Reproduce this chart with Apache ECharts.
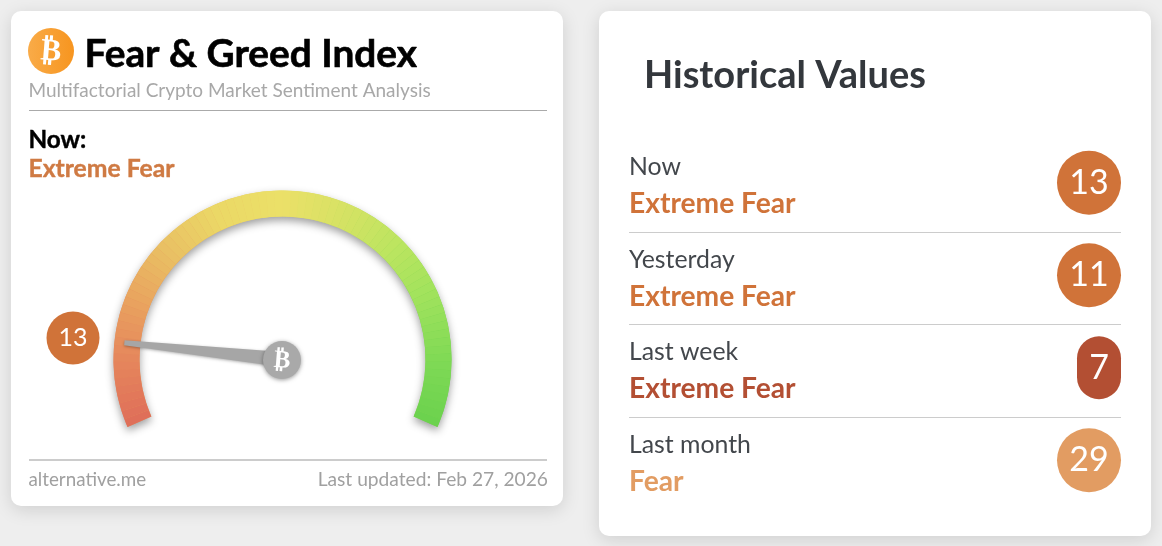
<!DOCTYPE html>
<html>
<head>
<meta charset="utf-8">
<title>Fear & Greed Index</title>
<style>
	html, body { margin: 0; padding: 0; background: #eeeeee; }
	#main { width: 1162px; height: 546px; }
</style>
</head>
<body>
<div id="main"></div>
<script src="https://cdn.jsdelivr.net/npm/echarts@6/dist/echarts.min.js"></script>
<script>
'use strict';

// values
const historyNames = ['Now', 'Yesterday', 'Last week', 'Last month'];
const historyClasses = ['Extreme Fear', 'Extreme Fear', 'Extreme Fear', 'Fear'];
const historyValues = [13, 11, 7, 29];
const historyColors = ['#d07339', '#d07339', '#b34f33', '#e29c62'];

// colours along the gauge arc, from 0 to 100
const arcStops = ['#df6d59', '#e5855c', '#e9a45f', '#e9c264', '#ebd966', '#ebe068', '#d6e264', '#bbe560', '#9ee25c', '#7fd955', '#6bd24e'];

function hexToRgb(hex) {
	return [1, 3, 5].map(function(i) { return parseInt(hex.substr(i, 2), 16); });
}

// the gauge has no conic fill, so the arc is cut into thin bands
function buildArcColors(steps) {
	const colors = [];
	for (let i = 0; i < steps; i++) {
		const pos = (i + 0.5) / steps * (arcStops.length - 1);
		const low = Math.floor(pos);
		const a = hexToRgb(arcStops[low]);
		const b = hexToRgb(arcStops[low + 1]);
		const mix = a.map(function(c, k) { return Math.round(c + (b[k] - c) * (pos - low)); });
		colors.push([(i + 1) / steps, 'rgb(' + mix.join(',') + ')']);
	}
	return colors;
}

const gaugeBase = {
	type: 'gauge',
	center: [282.5, 359.5],
	radius: 169,
	startAngle: 203.5,
	endAngle: -23.5,
	min: 0,
	max: 100,
	silent: true,
	axisTick: { show: false },
	splitLine: { show: false },
	axisLabel: { show: false },
	title: { show: false }
};

// label styles for the history rows, one per row because the colour changes
const rowRich = {
	name: { fontFamily: 'Lato', fontSize: 24.8, color: '#43474c', lineHeight: 37 }
};
historyColors.forEach(function(color, i) {
	rowRich['cls' + i] = { fontFamily: 'Lato', fontWeight: 'bold', fontSize: 28.2, color: color, lineHeight: 37 };
});

const pillPath = 'path://M22 0A22 22 0 0 1 44 22L44 41A22 22 0 0 1 0 41L0 22A22 22 0 0 1 22 0Z';

const myChart = echarts.init(document.getElementById('main'), null, { renderer: 'canvas' });

const option = {
	animation: false,
	backgroundColor: '#eeeeee',
	grid: { left: 629, top: 139.5, width: 492, height: 370 },
	xAxis: { type: 'value', min: 0, max: 1, show: false },
	yAxis: {
		type: 'category',
		inverse: true,
		data: historyNames,
		axisLine: { show: false },
		axisTick: { show: false },
		splitLine: {
			show: true,
			showMinLine: false,
			showMaxLine: false,
			lineStyle: { color: '#cccccc', width: 1 }
		},
		axisLabel: {
			inside: true,
			margin: 0,
			interval: 0,
			align: 'left',
			formatter: function(name, i) {
				return '{name|' + name + '}\n{cls' + i + '|' + historyClasses[i] + '}';
			},
			rich: rowRich
		}
	},
	graphic: [
		// cards
		{ type: 'rect', z: -10, shape: { x: 11, y: 11, width: 552, height: 495, r: 10 }, style: { fill: '#ffffff', shadowBlur: 18, shadowOffsetY: 4, shadowColor: 'rgba(0,0,0,0.13)' } },
		{ type: 'rect', z: -10, shape: { x: 599, y: 11, width: 552, height: 525, r: 10 }, style: { fill: '#ffffff', shadowBlur: 18, shadowOffsetY: 4, shadowColor: 'rgba(0,0,0,0.13)' } },
		// left header
		{
			type: 'circle', z: 1, shape: { cx: 51, cy: 51, r: 23 },
			style: { fill: new echarts.graphic.LinearGradient(0, 0, 1, 0, [{ offset: 0, color: '#f9ab48' }, { offset: 1, color: '#f7951f' }]) }
		},
		{ type: 'text', z: 2, rotation: -0.08, x: 51, y: 52, style: { text: '₿', fill: '#ffffff', font: 'bold 31px "DejaVu Sans"', align: 'center', verticalAlign: 'middle' } },
		{ type: 'text', z: 1, x: 84.5, y: 54, style: { text: 'Fear & Greed Index', fill: '#000000', stroke: '#000000', lineWidth: 0.6, font: 'bold 38.8px Lato', verticalAlign: 'middle' } },
		{ type: 'text', z: 1, x: 28.5, y: 91, style: { text: 'Multifactorial Crypto Market Sentiment Analysis', fill: '#a8a8a8', font: '19px Lato', verticalAlign: 'middle' } },
		{ type: 'rect', z: 1, shape: { x: 29, y: 110, width: 518, height: 1 }, style: { fill: '#aaaaaa' } },
		{ type: 'text', z: 1, x: 28.5, y: 140, style: { text: 'Now:', fill: '#000000', stroke: '#000000', lineWidth: 0.4, font: 'bold 24.3px Lato', verticalAlign: 'middle' } },
		{ type: 'text', z: 1, x: 28.5, y: 169, style: { text: historyClasses[0], fill: '#cf7a43', stroke: '#cf7a43', lineWidth: 0.4, font: 'bold 24.7px Lato', verticalAlign: 'middle' } },
		// hub coin mark
		{ type: 'text', z: 100, rotation: -0.08, x: 282, y: 361, style: { text: '₿', fill: '#ffffff', font: 'bold 25px "DejaVu Sans"', align: 'center', verticalAlign: 'middle' } },
		// left footer
		{ type: 'rect', z: 1, shape: { x: 29, y: 459, width: 518, height: 2 }, style: { fill: '#cccccc' } },
		{ type: 'text', z: 1, x: 28.5, y: 479.5, style: { text: 'alternative.me', fill: '#a0a0a0', font: '18.8px Lato', verticalAlign: 'middle' } },
		{ type: 'text', z: 1, x: 548, y: 479.5, style: { text: 'Last updated: Feb 27, 2026', fill: '#a0a0a0', font: '19.2px Lato', align: 'right', verticalAlign: 'middle' } },
		// right header
		{ type: 'text', z: 1, x: 644, y: 76, style: { text: 'Historical Values', fill: '#33373c', font: 'bold 38px Lato', verticalAlign: 'middle' } }
	],
	series: [
		// plain arc underneath, only there to carry the drop shadow
		Object.assign({}, gaugeBase, {
			z: 2,
			axisLine: {
				lineStyle: {
					width: 26,
					color: [[1, new echarts.graphic.LinearGradient(0, 0, 1, 0, [
						{ offset: 0, color: '#e5855c' },
						{ offset: 0.5, color: '#ebdf68' },
						{ offset: 1, color: '#6bd24e' }
					])]],
					shadowBlur: 9,
					shadowOffsetY: 4,
					shadowColor: 'rgba(0,0,0,0.38)'
				}
			},
			pointer: { show: false },
			anchor: { show: false },
			detail: { show: false },
			data: [{ value: historyValues[0] }]
		}),
		Object.assign({}, gaugeBase, {
			z: 3,
			axisLine: { lineStyle: { width: 26, color: buildArcColors(80) } },
			progress: { show: false },
			pointer: {
				show: true,
				icon: 'path://M5 0L10 0L15 100L0 100Z',
				width: 15,
				length: 159,
				itemStyle: { color: '#a6a6a6', shadowBlur: 3, shadowOffsetY: 1, shadowColor: 'rgba(0,0,0,0.3)' }
			},
			anchor: {
				show: true,
				showAbove: true,
				size: 38,
				icon: 'circle',
				offsetCenter: [-0.5, 0.5],
				itemStyle: { color: '#a9a9a9', borderWidth: 0, shadowBlur: 4, shadowOffsetY: 1, shadowColor: 'rgba(0,0,0,0.4)' }
			},
			detail: {
				show: true,
				valueAnimation: false,
				offsetCenter: [-209.5, -21.5],
				width: 53,
				height: 53,
				lineHeight: 53,
				padding: 0,
				borderRadius: 27,
				backgroundColor: historyColors[0],
				color: '#ffffff',
				fontFamily: 'Lato',
				fontWeight: 'normal',
				fontSize: 25,
				formatter: '{value}'
			},
			data: [{ value: historyValues[0] }]
		}),
		// history badges
		{
			type: 'scatter',
			silent: true,
			z: 4,
			data: historyValues.map(function(v, i) {
				const narrow = v < 10;
				return {
					value: [1, historyNames[i]],
					badge: v,
					symbol: narrow ? pillPath : 'circle',
					symbolSize: narrow ? [44, 63] : 64,
					symbolOffset: narrow ? [-22, -3] : [-32, -3],
					itemStyle: { color: historyColors[i], opacity: 1 },
					label: {
						show: true,
						position: 'inside',
						formatter: String(v),
						color: '#ffffff',
						fontFamily: 'Lato',
						fontSize: 34
					}
				};
			})
		}
	]
};

myChart.setOption(option);
</script>
</body>
</html>
